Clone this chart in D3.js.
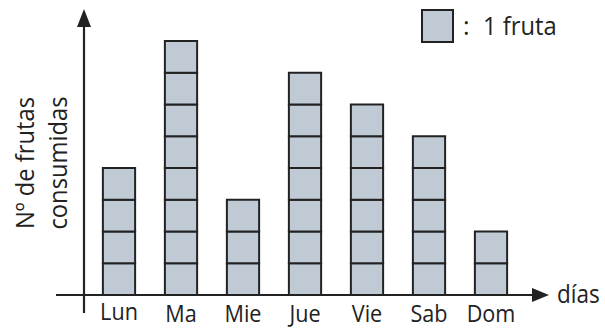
<!DOCTYPE html>
<html>
<head>
<meta charset="utf-8">
<script src="https://cdn.jsdelivr.net/npm/d3@7"></script>
<style>
  body { margin: 0; background: #fff; }
  text { font-family: "Open Sans", sans-serif; fill: #222; }
</style>
</head>
<body>
<script>
// data
const dias = ["Lun", "Ma", "Mie", "Jue", "Vie", "Sab", "Dom"];
const frutas = [4, 8, 3, 7, 6, 5, 2];
const yLabel = ["Nº de frutas", "consumidas"];
const xLabel = "días";
const legendText = "1 fruta";

const width = 605;
const height = 330;
const ink = "#222";
const fill = "#c0cad5";

const svg = d3.select("body")
    .append("svg")
    .attr("width", width)
    .attr("height", height);

const x = d3.scaleBand()
    .domain(dias)
    .range([88, 522])
    .paddingInner(0.48)
    .paddingOuter(0.24);

const y = d3.scaleLinear()
    .domain([0, 8])
    .range([295, 41]);

// one square per fruit
const cells = [];
dias.forEach((d, i) => {
    for (let k = 0; k < frutas[i]; k++) cells.push({ dia: d, k: k });
});

svg.append("g")
    .selectAll("rect")
    .data(cells)
    .join("rect")
    .attr("x", d => x(d.dia))
    .attr("y", d => y(d.k + 1))
    .attr("width", x.bandwidth())
    .attr("height", y(0) - y(1))
    .attr("fill", fill)
    .attr("stroke", ink)
    .attr("stroke-width", 2);

// axes with arrow heads
svg.append("line")
    .attr("x1", 56).attr("x2", 536)
    .attr("y1", y(0)).attr("y2", y(0))
    .attr("stroke", ink).attr("stroke-width", 2.2);
svg.append("path")
    .attr("d", `M532,${y(0) - 7}L549,${y(0)}L532,${y(0) + 7}Z`)
    .attr("fill", ink);

svg.append("line")
    .attr("x1", 84).attr("x2", 84)
    .attr("y1", 313).attr("y2", 22)
    .attr("stroke", ink).attr("stroke-width", 2.2);
svg.append("path")
    .attr("d", "M77,27L84,9L91,27Z")
    .attr("fill", ink);

// day labels (slightly narrowed, like the reference's school font)
svg.append("g")
    .selectAll("text")
    .data(dias)
    .join("text")
    .attr("transform", (d, i) => `translate(${x(d) + x.bandwidth() / 2},${i === 0 ? 320 : 322}) scale(0.9,1)`)
    .attr("text-anchor", "middle")
    .attr("font-size", 24)
    .text(d => d);

svg.append("text")
    .attr("transform", "translate(557,303) scale(0.9,1)")
    .attr("font-size", 25)
    .text(xLabel);

// y label, rotated
const yl = svg.append("text")
    .attr("transform", "translate(34,163) rotate(-90) scale(0.95,1)")
    .attr("text-anchor", "middle")
    .attr("font-size", 25);
yl.selectAll("tspan")
    .data(yLabel)
    .join("tspan")
    .attr("x", 0)
    .attr("dy", (d, i) => i === 0 ? 0 : 33)
    .text(d => d);

// legend
svg.append("rect")
    .attr("x", 422).attr("y", 10)
    .attr("width", 31).attr("height", 32)
    .attr("fill", fill)
    .attr("stroke", ink)
    .attr("stroke-width", 2);
svg.append("text")
    .attr("x", 463).attr("y", 35)
    .attr("font-size", 25)
    .text(":");
svg.append("text")
    .attr("transform", "translate(483,35) scale(0.95,1)")
    .attr("font-size", 25)
    .text(legendText);
</script>
</body>
</html>
